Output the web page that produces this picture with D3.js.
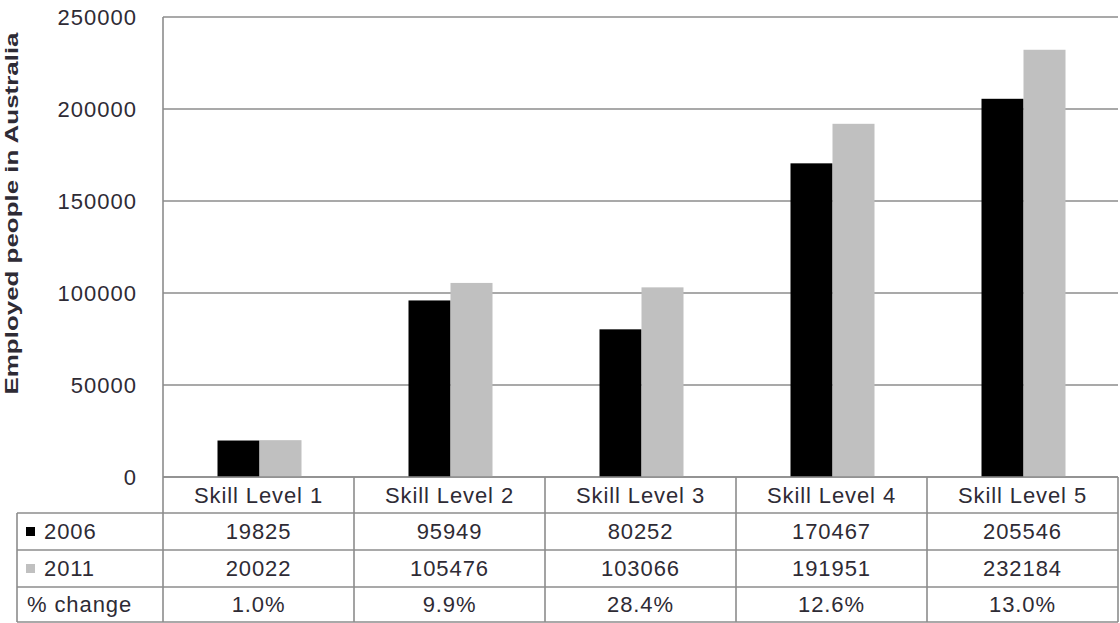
<!DOCTYPE html>
<html>
<head>
<meta charset="utf-8">
<script src="https://cdn.jsdelivr.net/npm/d3@7"></script>
<style>
  html, body { margin: 0; padding: 0; background: #fff; }
  svg text { font-family: "Liberation Sans", Arial, sans-serif; fill: #2e2b35; }
</style>
</head>
<body>
<svg id="chart" width="1120" height="623"></svg>
<script>
// Employed people in Australia by skill level, 2006 vs 2011
const categories = ["Skill Level 1", "Skill Level 2", "Skill Level 3", "Skill Level 4", "Skill Level 5"];
const seriesNames = ["2006", "2011"];
const values2006 = [19825, 95949, 80252, 170467, 205546];
const values2011 = [20022, 105476, 103066, 191951, 232184];
const yTicks = [0, 50000, 100000, 150000, 200000, 250000];
const changeLabel = "% change";

const series = [
  { name: seriesNames[0], values: values2006, color: "#000000" },
  { name: seriesNames[1], values: values2011, color: "#c0c0c0" }
];
const pctChange = values2006.map((v, i) => ((values2011[i] - v) / v * 100).toFixed(1) + "%");

const svg = d3.select("#chart");
const plot = { left: 163, right: 1118, top: 17, bottom: 477 };
const tableLeft = 17;
const rowEdges = [477, 513, 550, 587, 622];
const gridColor = "#8c8c8c";

const x = d3.scaleBand().domain(categories).range([plot.left, plot.right]).paddingInner(0).paddingOuter(0);
const inner = d3.scaleBand().domain(seriesNames).range([0, 84]);
const y = d3.scaleLinear().domain([0, 250000]).range([plot.bottom, plot.top]);

// gridlines
svg.append("g").selectAll("line").data(yTicks).join("line")
  .attr("x1", plot.left).attr("x2", plot.right)
  .attr("y1", d => y(d)).attr("y2", d => y(d))
  .attr("stroke", gridColor).attr("stroke-width", 1.6);

// left plot border
svg.append("line")
  .attr("x1", plot.left).attr("x2", plot.left)
  .attr("y1", plot.top).attr("y2", plot.bottom)
  .attr("stroke", gridColor).attr("stroke-width", 1.6);

// y axis labels
const yAxis = d3.axisLeft(y).tickValues(yTicks).tickSize(0).tickPadding(0).tickFormat(d3.format("d"));
const yg = svg.append("g").attr("transform", `translate(137,0)`).call(yAxis);
yg.select(".domain").remove();
yg.selectAll("text")
  .attr("font-size", 22).attr("letter-spacing", 1)
  .style("font-family", "'Liberation Sans', Arial, sans-serif")
  .attr("fill", "#2e2b35").attr("dy", "0.35em");

// y axis title
svg.append("text")
  .attr("transform", `translate(18,${(32 + 395) / 2}) rotate(-90) scale(1,0.74)`)
  .attr("text-anchor", "middle")
  .attr("font-size", 25).attr("font-weight", "bold")
  .attr("textLength", 362).attr("lengthAdjust", "spacingAndGlyphs")
  .text("Employed people in Australia");

// bars
const barW = 42;
series.forEach((s, si) => {
  svg.append("g").selectAll("rect").data(categories).join("rect")
    .attr("x", d => x(d) + x.bandwidth() / 2 - 41 + inner(s.name))
    .attr("width", barW)
    .attr("y", (d, i) => y(s.values[i]))
    .attr("height", (d, i) => y(0) - y(s.values[i]))
    .attr("fill", s.color);
});

// data table
const tbl = svg.append("g");
const lineAttrs = sel => sel.attr("stroke", gridColor).attr("stroke-width", 1.6);

// horizontal table lines
[rowEdges[0]].forEach(yy => tbl.append("line").attr("x1", plot.left).attr("x2", plot.right).attr("y1", yy).attr("y2", yy).call(lineAttrs));
rowEdges.slice(1).forEach(yy => tbl.append("line").attr("x1", tableLeft).attr("x2", plot.right).attr("y1", yy).attr("y2", yy).call(lineAttrs));

// vertical table lines
const colEdges = categories.map(c => x(c)).concat([plot.right]);
colEdges.forEach(xx => tbl.append("line").attr("x1", xx).attr("x2", xx).attr("y1", rowEdges[0]).attr("y2", rowEdges[4]).call(lineAttrs));
tbl.append("line").attr("x1", tableLeft).attr("x2", tableLeft).attr("y1", rowEdges[1]).attr("y2", rowEdges[4]).call(lineAttrs);

const cellText = (xx, row, txt, anchor) => tbl.append("text")
  .attr("x", xx).attr("y", (rowEdges[row] + rowEdges[row + 1]) / 2)
  .attr("dy", "0.36em").attr("text-anchor", anchor || "middle")
  .attr("font-size", 22).attr("letter-spacing", 0.9)
  .text(txt);

// header row
categories.forEach(c => cellText(x(c) + x.bandwidth() / 2, 0, c));

// series rows with legend keys
series.forEach((s, si) => {
  const row = si + 1;
  const cy = (rowEdges[row] + rowEdges[row + 1]) / 2;
  tbl.append("rect").attr("x", 26).attr("y", cy - 4.5).attr("width", 9).attr("height", 9).attr("fill", s.color);
  cellText(44, row, s.name, "start");
  categories.forEach((c, i) => cellText(x(c) + x.bandwidth() / 2, row, s.values[i]));
});

// percent change row
cellText(27, 3, changeLabel, "start");
categories.forEach((c, i) => cellText(x(c) + x.bandwidth() / 2, 3, pctChange[i]));
</script>
</body>
</html>
